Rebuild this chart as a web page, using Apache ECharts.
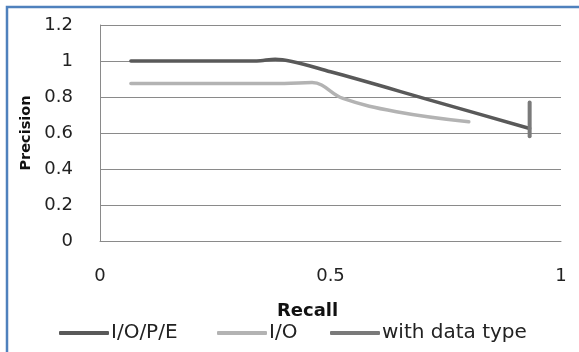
<!DOCTYPE html>
<html>
<head>
<meta charset="utf-8">
<script src="https://cdn.jsdelivr.net/npm/echarts@6/dist/echarts.min.js"></script>
<style>
html,body{margin:0;padding:0;background:#fff;}
#c{width:579px;height:352px;}
</style>
</head>
<body>
<div id="c"></div>
<script>
// Data
var seriesNames = ['I/O/P/E', 'I/O', 'with data type'];
var iopeRecall = [0.067, 0.34, 0.38, 0.5, 0.716, 0.932];
var iopePrecision = [1.0, 1.0, 1.01, 0.94, 0.783, 0.625];
var ioRecall = [0.067, 0.40, 0.46, 0.527, 0.643, 0.80];
var ioPrecision = [0.875, 0.875, 0.88, 0.792, 0.718, 0.662];
var dtRecall = [0.932, 0.932];
var dtPrecision = [0.582, 0.769];
var xTicks = [0, 0.5, 1];
var yTicks = [0, 0.2, 0.4, 0.6, 0.8, 1, 1.2];

function pairs(xs, ys) { return xs.map(function (x, i) { return [x, ys[i]]; }); }

var chart = echarts.init(document.getElementById('c'), null, {renderer: 'canvas'});
var font = 'DejaVu Sans';
var colors = ['#595959', '#b3b3b3', '#7a7a7a'];

function legendFor(i, left) {
  return {
    data: [seriesNames[i]],
    left: left, top: 323, padding: 0,
    icon: 'roundRect', itemWidth: 50, itemHeight: 4,
    textStyle: {fontFamily: font, fontSize: 20, color: '#222', padding: [0, 0, 0, -3]},
    itemStyle: {color: colors[i]}
  };
}

chart.setOption({
  animation: false,
  graphic: [{
    type: 'rect', silent: true,
    shape: {x: 7, y: 7, width: 620, height: 420},
    style: {fill: 'none', stroke: '#4f81bd', lineWidth: 2.5}
  }],
  grid: {left: 100, right: 18, top: 25, bottom: 111},
  xAxis: {
    type: 'value', min: 0, max: 1, interval: 0.5,
    name: 'Recall', nameLocation: 'middle', nameGap: 61,
    nameTextStyle: {fontFamily: font, fontSize: 18, fontWeight: 'bold', color: '#111', padding: [0, 46, 0, 0]},
    axisLine: {show: true, lineStyle: {color: '#8a8a8a', width: 1}},
    axisTick: {show: false},
    splitLine: {show: false},
    axisLabel: {fontFamily: font, fontSize: 18, color: '#222', margin: 26,
      formatter: function (v) { return xTicks.indexOf(v) >= 0 ? String(v) : ''; }}
  },
  yAxis: {
    type: 'value', min: 0, max: 1.2, interval: 0.2,
    name: 'Precision', nameLocation: 'middle', nameGap: 65,
    nameTextStyle: {fontFamily: font, fontSize: 14.5, fontWeight: 'bold', color: '#111'},
    axisLine: {show: true, lineStyle: {color: '#8a8a8a', width: 1}},
    axisTick: {show: false},
    splitLine: {show: true, lineStyle: {color: '#8a8a8a', width: 1}},
    axisLabel: {fontFamily: font, fontSize: 18, color: '#222', margin: 27,
      formatter: function (v) {
        var t = yTicks.filter(function (k) { return Math.abs(k - v) < 1e-9; });
        return t.length ? String(t[0]) : '';
      }}
  },
  legend: [legendFor(0, 59), legendFor(1, 217), legendFor(2, 330)],
  series: [
    {name: seriesNames[0], type: 'line', data: pairs(iopeRecall, iopePrecision), smooth: 0.3,
     showSymbol: false, symbol: 'none', lineStyle: {color: colors[0], width: 3.5, cap: 'round'}, itemStyle: {color: colors[0]}},
    {name: seriesNames[1], type: 'line', data: pairs(ioRecall, ioPrecision), smooth: 0.4,
     showSymbol: false, symbol: 'none', lineStyle: {color: colors[1], width: 3.5, cap: 'round'}, itemStyle: {color: colors[1]}},
    {name: seriesNames[2], type: 'line', data: pairs(dtRecall, dtPrecision),
     showSymbol: false, symbol: 'none', lineStyle: {color: colors[2], width: 4, cap: 'round'}, itemStyle: {color: colors[2]}}
  ]
});
</script>
</body>
</html>
